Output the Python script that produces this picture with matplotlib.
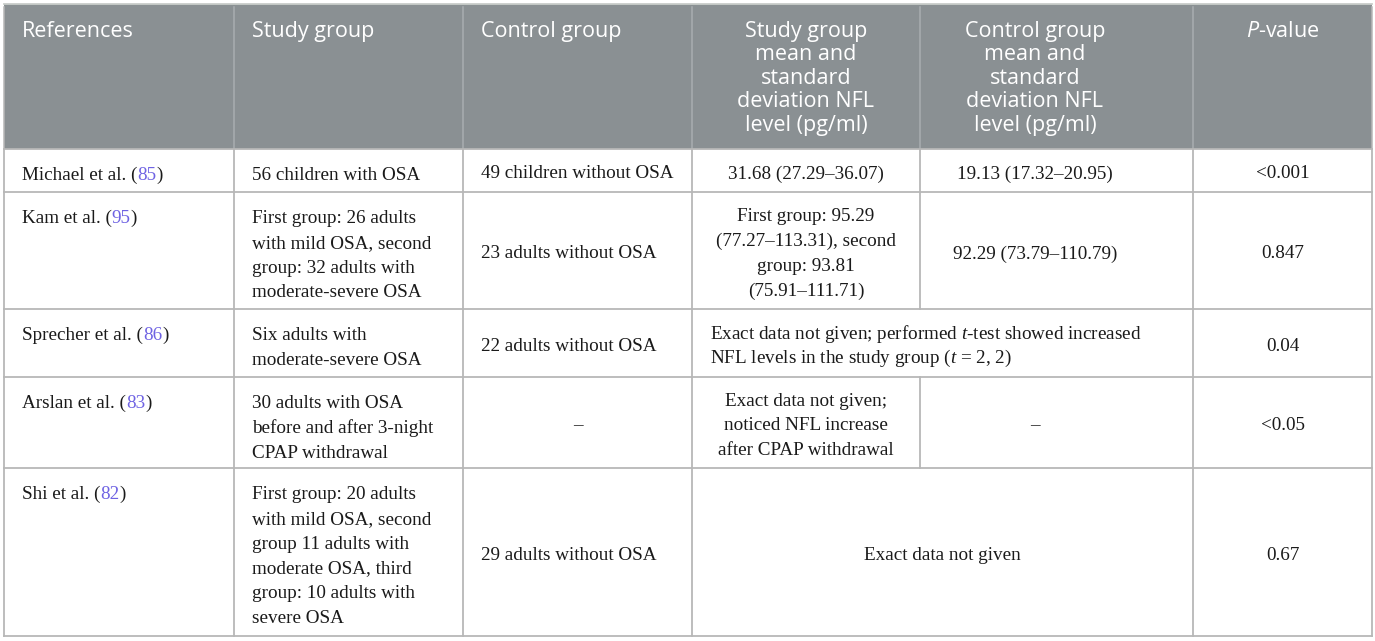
import matplotlib.pyplot as plt
from matplotlib.patches import Rectangle

plt.rcParams['mathtext.fontset'] = 'custom'
plt.rcParams['mathtext.it'] = 'Liberation Serif:italic'
plt.rcParams['mathtext.rm'] = 'Liberation Serif'
plt.rcParams['mathtext.sf'] = 'Open Sans:italic'

# table content
headers = ["References", "Study group", "Control group",
           "Study group\nmean and\nstandard\ndeviation NFL\nlevel (pg/ml)",
           "Control group\nmean and\nstandard\ndeviation NFL\nlevel (pg/ml)",
           r"$\mathsf{P}$-value"]
references = ["Michael et al. (", "Kam et al. (", "Sprecher et al. (", "Arslan et al. (", "Shi et al. ("]
ref_nums = ["85", "95", "86", "83", "82"]
study_group = ["56 children with OSA",
               "First group: 26 adults\nwith mild OSA, second\ngroup: 32 adults with\nmoderate-severe OSA",
               "Six adults with\nmoderate-severe OSA",
               "30 adults with OSA\nbefore and after 3-night\nCPAP withdrawal",
               "First group: 20 adults\nwith mild OSA, second\ngroup 11 adults with\nmoderate OSA, third\ngroup: 10 adults with\nsevere OSA"]
control_group = ["49 children without OSA", "23 adults without OSA", "22 adults without OSA",
                 "\u2013", "29 adults without OSA"]
study_nfl = ["31.68 (27.29\u201336.07)",
             "First group: 95.29\n(77.27\u2013113.31), second\ngroup: 93.81\n(75.91\u2013111.71)",
             None,
             "Exact data not given;\nnoticed NFL increase\nafter CPAP withdrawal",
             None]
control_nfl = ["19.13 (17.32\u201320.95)", "92.29 (73.79\u2013110.79)", None, "\u2013", None]
# rows where the two NFL columns are one cell
merged_nfl = {2: "Exact data not given; performed $t$-test showed increased\nNFL levels in the study group ($t$ = 2, 2)",
              4: "Exact data not given"}
p_values = ["<0.001", "0.847", "0.04", "<0.05", "0.67"]

# layout (pixels)
col_edges = [4, 234, 463, 692, 920, 1193, 1372]
row_edges = [4, 149, 192, 309, 377, 468, 636]
col_cx = [None, None, None, 806, 1035, 1283]
pad = 18
sp = 24.8
head_sp = 23.4

HEAD = '#8a9093'
HEAD_LINE = '#a9aeb0'
GRID = '#b7b7b7'
INK = '#1a1a1a'
LINK = '#6f63e3'
serif = dict(family='Liberation Serif', size=13.8, color=INK)
sans = dict(family='Open Sans', size=15.5, color='white')

fig = plt.figure(figsize=(13.75, 6.41), dpi=100)
ax = fig.add_axes([0, 0, 1, 1])
ax.set_xlim(0, 1375)
ax.set_ylim(641, 0)
ax.axis('off')
renderer = fig.canvas.get_renderer()

left, right = col_edges[0], col_edges[-1]
ax.add_patch(Rectangle((left, row_edges[0]), right - left, row_edges[1] - row_edges[0],
                       fc=HEAD, ec='none'))

# grid
for y in row_edges:
    ax.plot([left, right], [y, y], color=GRID if y != row_edges[0] else '#c9cdca', lw=1.3)
for j, x in enumerate(col_edges):
    c = GRID if j in (0, len(col_edges) - 1) else HEAD_LINE
    ax.plot([x, x], [row_edges[0] + 3, row_edges[1]], color=c, lw=1.1)
    for i in range(5):
        if j == 4 and i in merged_nfl:
            continue
        ax.plot([x, x], [row_edges[i + 1], row_edges[i + 2]], color=GRID, lw=1.3)


def top_lines(x, top, s, **kw):
    for k, line in enumerate(s.split('\n')):
        ax.text(x, top + 31 + k * sp, line, ha='left', va='baseline', **kw)


def mid_lines(x, top, bot, s, ha='center', **kw):
    lines = s.split('\n')
    mid = (top + bot) / 2
    for k, line in enumerate(lines):
        y = mid - (len(lines) - 1) / 2 * sp + k * sp + 8
        ax.text(x, y, line, ha=ha, va='baseline', **kw)


# header
for j, h in enumerate(headers):
    for k, line in enumerate(h.split('\n')):
        y = 37 + k * head_sp
        if col_cx[j] is None:
            ax.text(col_edges[j] + pad, y, line, ha='left', va='baseline', **sans)
        else:
            ax.text(col_cx[j], y, line, ha='center', va='baseline', **sans)

# body
for i in range(5):
    top, bot = row_edges[i + 1], row_edges[i + 2]
    # reference with blue number
    x = col_edges[0] + pad
    y = top + 31
    for s, c in [(references[i], INK), (ref_nums[i], LINK), (")", INK)]:
        t = ax.text(x, y, s, ha='left', va='baseline', family='Liberation Serif', size=13.8, color=c)
        x += t.get_window_extent(renderer).width
    top_lines(col_edges[1] + pad, top, study_group[i], **serif)
    if control_group[i] == "\u2013":
        mid_lines((col_edges[2] + col_edges[3]) / 2, top, bot, control_group[i], **serif)
    else:
        mid_lines(col_edges[2] + pad, top, bot, control_group[i], ha='left', **serif)
    if i in merged_nfl:
        if '\n' in merged_nfl[i]:
            mid_lines(col_edges[3] + pad, top, bot, merged_nfl[i], ha='left', **serif)
        else:
            mid_lines((col_edges[3] + col_edges[5]) / 2, top, bot, merged_nfl[i], **serif)
    else:
        mid_lines(col_cx[3], top, bot, study_nfl[i], **serif)
        mid_lines(col_cx[4], top, bot, control_nfl[i], **serif)
    mid_lines(col_cx[5], top, bot, p_values[i], **serif)

fig.savefig('out.png', dpi=100)
